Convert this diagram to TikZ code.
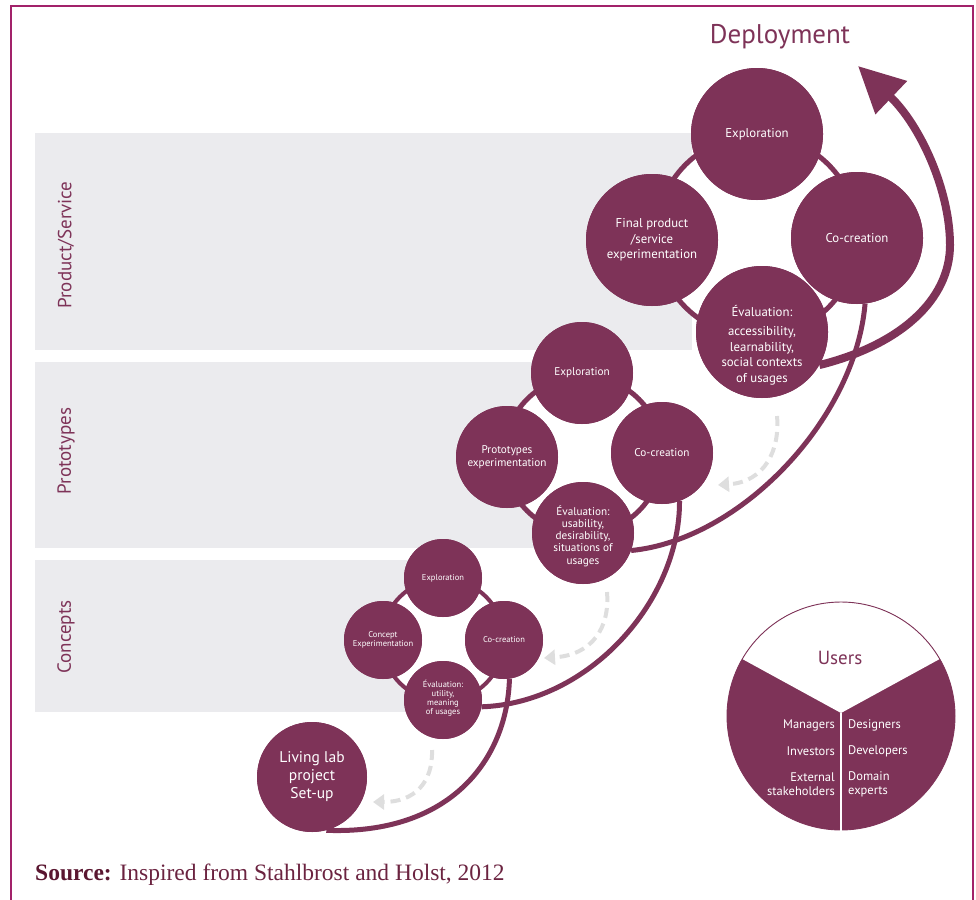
\documentclass[tikz,border=0pt]{standalone}
\usepackage{fontspec}
\setmainfont{PT Sans}
\newfontfamily\srcfont{Liberation Serif}
\usetikzlibrary{arrows.meta,calc}
\definecolor{maroon}{HTML}{7E3358}
\definecolor{framecol}{HTML}{A2226A}
\definecolor{bandgray}{HTML}{EBEBEE}
\definecolor{dashgray}{HTML}{DEDEDE}
\definecolor{srcdark}{HTML}{5A1630}
\definecolor{srctext}{HTML}{6B2340}
\begin{document}
\begin{tikzpicture}[x=1pt,y=-1pt,
  bubble/.style={circle,fill=maroon,text=white,inner sep=0pt,align=center},
  bigb/.style={bubble,minimum size=132pt,font=\fontsize{12.8}{15.5}\selectfont},
  midb/.style={bubble,minimum size=102pt,font=\fontsize{11.2}{13}\selectfont},
  smallb/.style={bubble,minimum size=78pt,font=\fontsize{8.5}{9.5}\selectfont},
  ringline/.style={draw=maroon,line width=5pt},
  flow/.style={draw=maroon,line width=5pt},
  backflow/.style={draw=dashgray,line width=4pt,dash pattern=on 10pt off 6pt,-{Triangle[length=11pt,width=15pt]}},
  sidelabel/.style={rotate=90,text=maroon,font=\fontsize{19}{21}\selectfont},
  usertxt/.style={text=white,font=\fontsize{12.5}{14}\selectfont,inner sep=0pt}
]
\useasboundingbox (0,0) rectangle (976,899);
% frame
\draw[framecol,line width=2.5pt] (11,905) -- (11,6) -- (973,6) -- (973,905);
% bands
\fill[bandgray] (35,133) rectangle (692,350);
\fill[bandgray] (35,362) rectangle (583,548);
\fill[bandgray] (35,560) rectangle (443,712);
% side labels
\node[sidelabel] (lps) at (66,245) {Product/Service};
\node[sidelabel] (lpr) at (66,451) {Prototypes};
\node[sidelabel] (lco) at (66,637) {Concepts};
% ring centres
\coordinate (r1) at (443,640);
\coordinate (r2) at (583,455);
\coordinate (r3) at (757,236);
\fill[white] (r1) circle (61pt);
\fill[white] (r2) circle (79pt);
\fill[white] (r3) circle (101pt);
\draw[ringline,line width=4pt] (r1) circle (61pt);
\draw[ringline] (r2) circle (79pt);
\draw[ringline] (r3) circle (101pt);
% circle nodes (placed first, for anchors)
\node[smallb] (ex1) at (443,578) {Exploration};
\node[smallb] (cc1) at (504,640) {Co-creation};
\node[smallb] (xp1) at (383,640) {Concept\\Experimentation};
\node[smallb] (ev1) at (443,700) {};
\node[midb] (ex2) at (582,373) {Exploration};
\node[midb] (cc2) at (662,453) {Co-creation};
\node[midb] (xp2) at (507,457) {Prototypes\\experimentation};
\node[midb] (ev2) at (583,533) {};
\node[bigb] (ex3) at (757,134) {Exploration};
\node[bigb] (cc3) at (857,238) {Co-creation};
\node[bigb] (xp3) at (652,240) {Final product\\/service\\experimentation};
\node[bigb] (ev3) at (762,332) {};
\node[bubble,minimum size=110pt,font=\fontsize{15.5}{18}\selectfont] (ll) at (312,777) {Living lab\\project\\Set-up};
% flows
\draw[flow] (ll.-75) .. controls (450,835) and (507,760) .. (cc1.-82);
\draw[flow] (ev1.-10) .. controls (590,703) and (680,600) .. (cc2.-70);
\draw[flow] (ev2.-20) .. controls (740,540) and (855,420) .. (cc3.-83);
\draw[flow,line width=8pt,-{Triangle[length=46pt,width=44pt]}] (ev3.-30) .. controls (900,345) and (950,300) .. (950,245)
   .. controls (950,190) and (920,125) .. (858,66);
% redraw circles on top of flows
\node[smallb] at (ex1) {Exploration};
\node[smallb] at (cc1) {Co-creation};
\node[smallb] at (xp1) {Concept\\Experimentation};
\node[smallb] at (ev1) {};
\node[midb] at (ex2) {Exploration};
\node[midb] at (cc2) {Co-creation};
\node[midb] at (xp2) {Prototypes\\experimentation};
\node[midb] at (ev2) {};
\node[bigb] at (ex3) {Exploration};
\node[bigb] at (cc3) {Co-creation};
\node[bigb] at (xp3) {Final product\\/service\\experimentation};
\node[bigb] at (ev3) {};
\node[bubble,minimum size=110pt,font=\fontsize{15.5}{18}\selectfont] at (ll) {Living lab\\project\\Set-up};
% evaluation texts
\node[text=white,align=center,font=\fontsize{8.5}{9}\selectfont,inner sep=0pt] (t1) at ($(ev1)+(0,-2)$) {Évaluation:\\utility,\\meaning\\of usages};
\node[text=white,align=center,font=\fontsize{11.2}{12.3}\selectfont,inner sep=0pt] (t2) at ($(ev2)+(0,3)$) {Évaluation:\\usability,\\desirability,\\situations of\\usages};
\node[text=white,align=center,font=\fontsize{12.8}{15.5}\selectfont,inner sep=0pt] (t3) at ($(ev3)+(0,13)$) {Évaluation:\\[4pt]accessibility,\\learnability,\\social contexts\\of usages};
% dashed back arrows
\coordinate (d3) at (777,416);
\coordinate (d2) at (607,592);
\coordinate (d1) at (432,750);
\draw[backflow] (d3) .. controls (780,450) and (765,482) .. (718,485);
\draw[backflow] (d2) .. controls (610,628) and (592,655) .. (544,658);
\draw[backflow] (d1) .. controls (433,782) and (415,802) .. (373,802);
% deployment
\node[text=maroon,font=\fontsize{27}{30}\selectfont] (dep) at (780,37) {Deployment};
% users pie
\coordinate (uc) at (841,716);
\node[circle,minimum size=228pt,inner sep=0pt,fill=maroon] (users) at (uc) {};
\fill[white] (841,713) -- ($(uc)+(30:114pt)$) arc[start angle=30,end angle=150,radius=114pt] -- cycle;
\draw[maroon,line width=0.9pt] (users.center) circle (114pt);
\draw[white,line width=2pt] (841,713) -- (841,831);
\node[text=maroon,font=\fontsize{19}{22}\selectfont] (ut) at (840,658) {Users};
\node[usertxt,anchor=east] (u1) at (835,725) {Managers};
\node[usertxt,anchor=east] (u2) at (835,751) {Investors};
\node[usertxt,anchor=east,align=right] (u3) at (835,784) {External\\stakeholders};
\node[usertxt,anchor=west] (u4) at (848,725) {Designers};
\node[usertxt,anchor=west] (u5) at (848,751) {Developers};
\node[usertxt,anchor=west,align=left] (u6) at (848,784) {Domain\\experts};
% source
\node[anchor=base west,inner sep=0pt,font=\srcfont\fontsize{23.5}{27}\selectfont,text=srctext] (src) at (35,880) {\textcolor{srcdark}{\textbf{Source:}} Inspired from Stahlbrost and Holst, 2012};
\end{tikzpicture}
\end{document}
